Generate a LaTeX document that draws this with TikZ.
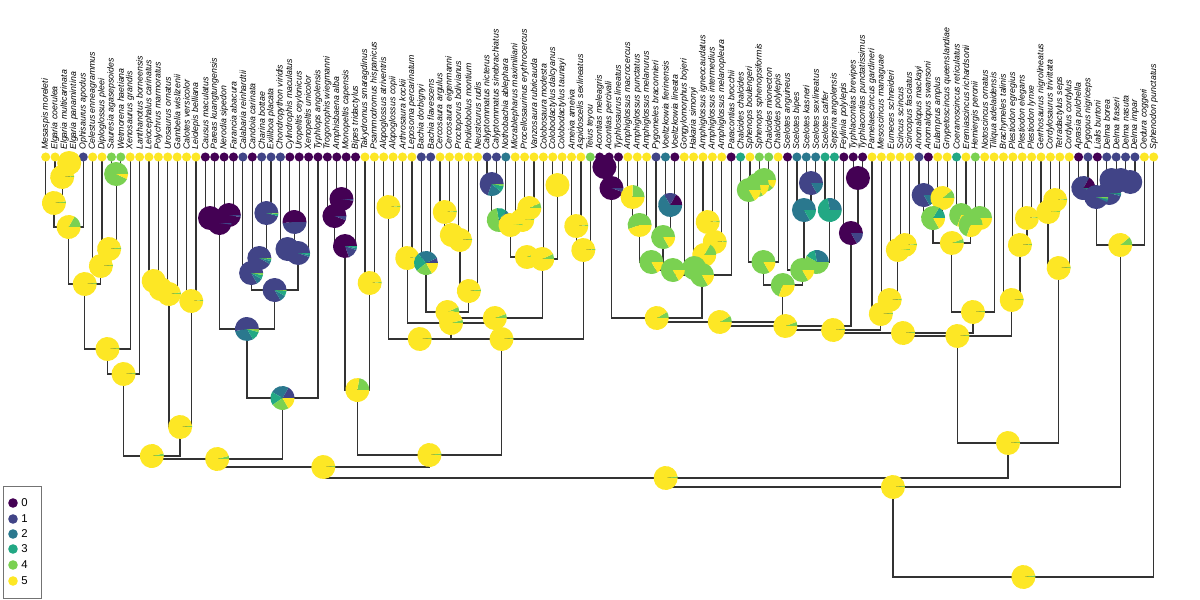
\documentclass[tikz,border=0pt]{standalone}
\usepackage{fontspec}
\setmainfont{Liberation Sans}
\usetikzlibrary{calc}
\definecolor{c0}{HTML}{440154}
\definecolor{c1}{HTML}{414487}
\definecolor{c2}{HTML}{2A788E}
\definecolor{c3}{HTML}{22A884}
\definecolor{c4}{HTML}{7AD151}
\definecolor{c5}{HTML}{FDE725}
\pgfdeclarelayer{bg}
\pgfsetlayers{bg,main}
\newcommand{\pieR}{9pt}
\def\PY{c4/5,c5/360}
\newcommand{\pie}[2]{\edef\pielist{#2}\foreach \pcol/\pend [remember=\pend as \pbeg (initially 0)] in \pielist {\fill[\pcol] (#1) -- ++(\pbeg:\pieR) arc[start angle=\pbeg,end angle=\pend,radius=\pieR] -- cycle;}}
\newcommand{\nd}[5]{\path ($(#2)!0.5!(#3)$) coordinate (tmp); \coordinate (#1) at (tmp |- 0,#4); \begin{pgfonlayer}{bg}\draw[br] (#2) |- (#1); \draw[br] (#3) |- (#1);\end{pgfonlayer}\pie{#1}{#5}}
\begin{document}
\begin{tikzpicture}[x=0.75pt,y=-0.75pt,
  br/.style={draw=black!80,line width=0.9pt},
  tiplab/.style={rotate=90,anchor=west,inner sep=0pt,font=\fontsize{6.6}{7}\selectfont\itshape},
  leglab/.style={anchor=west,inner sep=0pt,font=\fontsize{8.5}{9}\selectfont}]
\useasboundingbox (0,0) rectangle (1200,600);
\foreach \i/\nm/\cl in {1/Mesaspis moreleti/c5,2/Elgaria coerulea/c5,3/Elgaria multicarinata/c5,4/Elgaria panamintina/c5,5/Ophisaurus apodus/c1,6/Celestus enneagrammus/c5,7/Diploglossus pleei/c5,8/Sauresia agasepsoides/c4,9/Wetmorena haetiana/c4,10/Xenosaurus grandis/c5,11/Lanthanotus borneensis/c5,12/Leiocephalus carinatus/c5,13/Polychrus marmoratus/c5,14/Urosaurus ornatus/c5,15/Gambelia wislizenii/c5,16/Calotes versicolor/c5,17/Leiolepis belliana/c5,18/Causus maculatus/c0,19/Pareas kuangtungensis/c0,20/Nerodia sipedon/c0,21/Farancia abacura/c0,22/Calabaria reinhardtii/c1,23/Candoia carinata/c0,24/Charina bottae/c1,25/Exiliboa placata/c1,26/Chondropython viridis/c1,27/Cylindrophis maculatus/c0,28/Uropeltis ceylonicus/c0,29/Xenopeltis unicolor/c0,30/Typhlops angolensis/c0,31/Trogonophis wiegmanni/c0,32/Amphisbaena alba/c0,33/Monopeltis capensis/c0,34/Bipes tridactylus/c0,35/Takydromus smaragdinus/c5,36/Psammodromus hispanicus/c5,37/Alopoglossus atriventris/c5,38/Alopoglossus copii/c5,39/Arthrosaura kockii/c5,40/Leposoma percarinatum/c5,41/Bachia dorbignyi/c1,42/Bachia flavescens/c1,43/Cercosaura argulus/c5,44/Cercosaura eigenmanni/c5,45/Proctoporus bolivianus/c5,46/Pholidobolus montium/c5,47/Neusticurus rudis/c5,48/Calyptommatus nicterus/c1,49/Calyptommatus sinebrachiatus/c1,50/Nothobachia ablephara/c2,51/Micrablepharus maximiliani/c5,52/Procellosaurinus erythrocercus/c5,53/Vanzosaura rubricauda/c5,54/Colobosaura modesta/c5,55/Colobodactylus dalcyanus/c5,56/Colobodactylus taunayi/c5,57/Ameiva ameiva/c5,58/Aspidoscelis sexlineatus/c5,59/Teius teyou/c4,60/Acontias meleagris/c0,61/Acontias percivali/c0,62/Typhlosaurus lineatus/c0,63/Amphiglossus macrocercus/c5,64/Amphiglossus punctatus/c5,65/Amphiglossus melanurus/c5,66/Pygomeles braconnieri/c1,67/Voeltzkowia fierinensis/c2,68/Voeltzkowia lineata/c0,69/Gongylomorphus bojeri/c5,70/Hakaria simonyi/c5,71/Amphiglossus igneocaudatus/c5,72/Amphiglossus intermedius/c5,73/Amphiglossus melanopleura/c5,74/Paracontias brocchii/c0,75/Chalcides chalcides/c3,76/Sphenops boulengeri/c5,77/Sphenops sphenopsiformis/c4,78/Chalcides mionecton/c4,79/Chalcides polylepis/c5,80/Scelotes anguineus/c0,81/Scelotes bipes/c2,82/Scelotes kasneri/c2,83/Scelotes sexlineatus/c2,84/Scelotes caffer/c3,85/Sepsina angolensis/c3,86/Feylinia polylepis/c0,87/Typhlacontias brevipes/c0,88/Typhlacontias punctatissimus/c0,89/Pamelaescincus gardineri/c5,90/Mesoscincus managuae/c5,91/Eumeces schneideri/c5,92/Scincus scincus/c5,93/Scincopus fasciatus/c5,94/Anomalopus mackayi/c1,95/Anomalopus swansoni/c0,96/Eulamprus amplus/c5,97/Gnypetoscincus queenslandiae/c5,98/Coeranoscincus reticulatus/c3,99/Eremiascincus richardsonii/c5,100/Hemiergis peronii/c4,101/Notoscincus ornatus/c5,102/Tiliqua adelaidensis/c5,103/Brachymeles talinis/c5,104/Plestiodon egregius/c5,105/Plestiodon elegans/c5,106/Plestiodon lynxe/c5,107/Gerrhosaurus nigrolineatus/c5,108/Cordylosaurus trivittata/c5,109/Tetradactylus seps/c5,110/Cordylus cordylus/c5,111/Aprasia pulchella/c0,112/Pygopus nigriceps/c1,113/Lialis burtoni/c0,114/Delma borea/c1,115/Delma fraseri/c1,116/Delma nasuta/c1,117/Delma impar/c1,118/Oedura coggeri/c5,119/Sphenodon punctatus/c5}{
  \pgfmathsetmacro\tx{45.7+(\i-1)*9.39}
  \coordinate (t\i) at (\tx,157);
  \fill[\cl] (t\i) circle[radius=3.4pt];
  \node[tiplab] (l\i) at (\tx,150) {\nm};
}
% Anguimorpha
\nd{n34}{t3}{t4}{163}{c5/360}
\nd{n234}{t2}{n34}{177}{\PY}
\nd{n14}{t1}{n234}{203}{c4/8,c5/360}
\nd{nAa}{n14}{t5}{227}{c4/60,c5/360}
\nd{n89}{t8}{t9}{174}{c4/335,c5/360}
\nd{n79}{t7}{n89}{249}{c4/8,c5/360}
\nd{n69}{t6}{n79}{266}{\PY}
\nd{nAng}{nAa}{n69}{284}{\PY}
\nd{nX}{nAng}{t10}{349}{\PY}
\nd{nAM}{nX}{t11}{374}{\PY}
% Iguania
\nd{n1213}{t12}{t13}{281}{\PY}
\nd{n1214}{n1213}{t14}{289}{\PY}
\nd{n1215}{n1214}{t15}{294}{c4/8,c5/360}
\nd{n1617}{t16}{t17}{301}{\PY}
\nd{nIg}{n1215}{n1617}{427}{c4/6,c5/360}
\nd{nAI}{nAM}{nIg}{456}{c4/12,c5/360}
% Serpentes
\nd{n1819}{t18}{t19}{218}{c0/356,c1/360}
\nd{n2021}{t20}{t21}{215}{c0/350,c1/360}
\nd{nCaen}{n1819}{n2021}{223}{c0/352,c1/360}
\nd{n2425}{t24}{t25}{213}{c1/345,c3/355,c4/360}
\nd{n2325}{t23}{n2425}{258}{c1/330,c2/345,c3/355,c4/360}
\nd{n2225}{t22}{n2325}{273}{c1/300,c2/330,c3/350,c4/360}
\nd{n2728}{t27}{t28}{222}{c0/185,c1/360}
\nd{n2628}{t26}{n2728}{249}{c1/345,c2/355,c3/360}
\nd{n2629}{n2628}{t29}{253}{c1/340,c2/350,c3/360}
\nd{nBoid}{n2225}{n2629}{290}{c1/300,c2/330,c3/355,c4/360}
\nd{nAle}{nCaen}{nBoid}{329}{c1/190,c2/300,c3/345,c4/358,c5/360}
\nd{nSerp}{nAle}{t30}{398}{c1/60,c2/150,c3/215,c4/300,c5/360}
\nd{nT2}{nAI}{nSerp}{459}{c4/15,c5/360}
% Amphisbaenia + Lacertidae
\nd{n3233}{t32}{t33}{199}{c0/352,c1/360}
\nd{n3133}{t31}{n3233}{216}{c0/340,c1/360}
\nd{nAmph}{n3133}{t34}{246}{c0/290,c1/340,c2/350,c3/360}
\nd{nLac}{t35}{t36}{283}{\PY}
\nd{nLA}{nAmph}{nLac}{390}{c4/80,c5/360}
% Gymnophthalmidae + Teiidae
\nd{n3738}{t37}{t38}{207}{\PY}
\nd{n3940}{t39}{t40}{258}{\PY}
\nd{nBach}{t41}{t42}{263}{c1/25,c2/130,c3/220,c4/300,c5/360}
\nd{n4344}{t43}{t44}{212}{\PY}
\nd{n4345}{n4344}{t45}{235}{\PY}
\nd{n4346}{n4345}{t46}{240}{\PY}
\nd{n4347}{n4346}{t47}{291}{c4/8,c5/360}
\nd{nCer}{nBach}{n4347}{312}{c4/25,c5/360}
\nd{n4849}{t48}{t49}{184}{c1/250,c2/320,c3/350,c4/360}
\nd{n4850}{n4849}{t50}{220}{c1/10,c2/50,c3/100,c4/330,c5/360}
\nd{n5253}{t52}{t53}{208}{c4/25,c5/360}
\nd{n5153}{t51}{n5253}{220}{\PY}
\nd{nS}{n4850}{n5153}{225}{\PY}
\nd{nR}{nS}{t54}{257}{c4/25,c5/360}
\nd{n5556}{t55}{t56}{185}{c5/360}
\nd{nQ}{nR}{n5556}{259}{c4/25,c5/360}
\nd{nG2}{nCer}{nQ}{318}{c4/20,c5/360}
\nd{nG3}{n3940}{nG2}{323}{c4/15,c5/360}
\nd{nGym}{n3738}{nG3}{339}{\PY}
\nd{n5758}{t57}{t58}{226}{\PY}
\nd{nTei}{n5758}{t59}{250}{\PY}
\nd{nTO}{nGym}{nTei}{339}{\PY}
\nd{nLO}{nLA}{nTO}{455}{c4/8,c5/360}
\nd{nT3}{nT2}{nLO}{467}{\PY}
% Scincidae
\nd{nA1}{t60}{t61}{167}{c0/360}
\nd{nA2}{nA1}{t62}{188}{c0/340,c1/360}
\nd{nM1}{t63}{t64}{197}{c4/90,c5/360}
\nd{nM2}{nM1}{t65}{225}{c4/200,c5/360}
\nd{nM3}{t67}{t68}{205}{c0/60,c1/120,c2/360}
\nd{nM4}{t66}{nM3}{237}{c4/300,c5/360}
\nd{nM5}{nM2}{nM4}{262}{c4/300,c5/360}
\nd{nM6}{t71}{t72}{222}{\PY}
\nd{nM7}{nM6}{t73}{242}{\PY}
\nd{nM8}{t70}{nM7}{255}{c4/60,c5/360}
\nd{nM9}{t69}{nM8}{268}{c4/300,c5/360}
\nd{nM10}{nM5}{nM9}{270}{c4/300,c5/360}
\nd{nM11}{nM10}{t74}{275}{c4/300,c5/360}
\nd{nC1}{t77}{t78}{180}{c4/320,c5/360}
\nd{nC2}{t76}{nC1}{185}{c4/300,c5/360}
\nd{nC3}{t75}{nC2}{190}{c4/300,c5/360}
\nd{nC4}{nC3}{t79}{262}{c4/300,c5/360}
\nd{nS1}{t82}{t83}{183}{c1/300,c2/360}
\nd{nS2}{t81}{nS1}{210}{c2/300,c3/360}
\nd{nS3}{t84}{t85}{210}{c2/100,c3/360}
\nd{nS4}{nS2}{nS3}{262}{c2/100,c3/150,c4/360}
\nd{nS5}{t80}{nS4}{270}{c4/300,c5/360}
\nd{nCS}{nC4}{nS5}{285}{c4/250,c5/360}
\nd{nF1}{t87}{t88}{178}{c0/360}
\nd{nF2}{t86}{nF1}{233}{c0/300,c1/360}
\nd{nE1}{t92}{t93}{245}{\PY}
\nd{nE2}{t91}{nE1}{250}{\PY}
\nd{nE3}{t90}{nE2}{300}{\PY}
\nd{nE4}{t89}{nE3}{314}{\PY}
\nd{nL1}{t94}{t95}{195}{c1/300,c2/360}
\nd{nL2}{t96}{t97}{198}{c4/40,c5/360}
\nd{nL12}{nL1}{nL2}{218}{c3/60,c4/300,c5/360}
\nd{nL3}{t98}{t99}{215}{c4/250,c5/360}
\nd{nL5}{t100}{t101}{218}{c4/200,c5/360}
\nd{nL35}{nL3}{nL5}{225}{c4/250,c5/360}
\nd{nL4}{nL12}{nL35}{243}{c4/20,c5/360}
\nd{nL}{nL4}{t102}{312}{\PY}
\nd{nB1}{t105}{t106}{218}{\PY}
\nd{nB2}{t104}{nB1}{245}{\PY}
\nd{nB3}{t103}{nB2}{300}{\PY}
\nd{nK1}{nA2}{nM11}{318}{c4/30,c5/360}
\nd{nK2}{nK1}{nCS}{322}{c4/30,c5/360}
\nd{nK3}{nK2}{nF2}{326}{c4/20,c5/360}
\nd{nK4}{nK3}{nE4}{330}{\PY}
\nd{nK5}{nK4}{nL}{333}{\PY}
\nd{nSc}{nK5}{nB3}{336}{\PY}
\nd{nG1}{t108}{t109}{200}{\PY}
\nd{nGr}{t107}{nG1}{212}{\PY}
\nd{nCo}{nGr}{t110}{268}{\PY}
\nd{nSco}{nSc}{nCo}{443}{\PY}
\nd{nT4}{nT3}{nSco}{478}{c4/8,c5/360}
% Gekkota
\nd{nP12}{t111}{t112}{188}{c0/60,c1/340,c2/350,c3/360}
\nd{nD1}{t114}{t115}{180}{c1/360}
\nd{nD2}{t116}{t117}{182}{c1/360}
\nd{nD}{nD1}{nD2}{180}{c1/360}
\nd{nP3D}{t113}{nD}{193}{c1/345,c2/355,c3/360}
\nd{nPyg}{nP12}{nP3D}{197}{c1/335,c2/345,c3/352,c4/360}
\nd{nGek}{nPyg}{t118}{245}{c4/40,c5/360}
\nd{nSq}{nT4}{nGek}{487}{\PY}
\nd{nRoot}{nSq}{t119}{577}{c4/8,c5/360}
% legend
\draw[black!55,line width=0.6pt] (3,486) rectangle (41,598);
\foreach \k/\yy in {0/503,1/519,2/534,3/549,4/565,5/581}{
  \fill[c\k] (13,\yy) circle[radius=3.6pt];
  \node[leglab] (lg\k) at (21,\yy) {\k};
}
\end{tikzpicture}
\end{document}
